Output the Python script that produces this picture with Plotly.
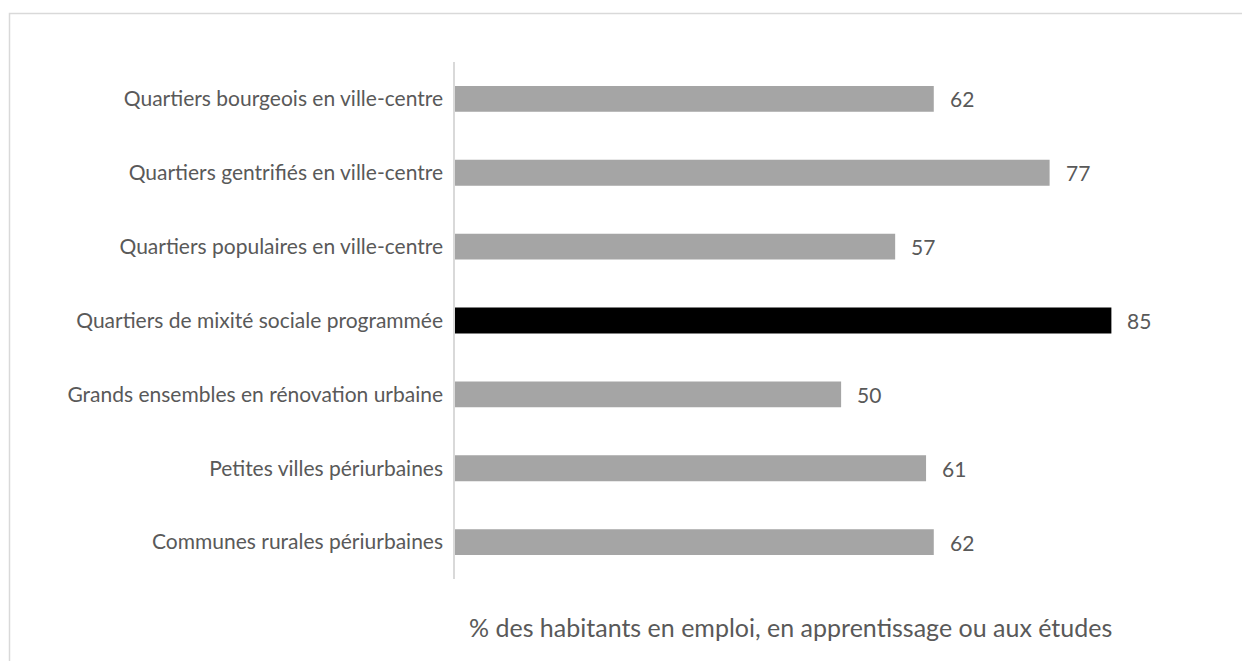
import plotly.graph_objects as go

categories = [
    "Quartiers bourgeois en ville-centre",
    "Quartiers gentrifiés en ville-centre",
    "Quartiers populaires en ville-centre",
    "Quartiers de mixité sociale programmée",
    "Grands ensembles en rénovation urbaine",
    "Petites villes périurbaines",
    "Communes rurales périurbaines",
]
values = [62, 77, 57, 85, 50, 61, 62]
highlight = "Quartiers de mixité sociale programmée"
axis_title = "% des habitants en emploi, en apprentissage ou aux études"

W, H = 1242, 661
L, R, T, B = 455, 92, 62, 82
pw, ph = W - L - R, H - T - B

colors = ["#000000" if c == highlight else "#a5a5a5" for c in categories]
FONT = "Lato, Open Sans, sans-serif"
TXT = "#595959"

fig = go.Figure(go.Bar(
    x=values, y=categories, orientation="h",
    marker=dict(color=colors, line=dict(width=0)),
    width=0.35, hoverinfo="skip",
))

# value labels placed just right of each bar
for c, v in zip(categories, values):
    fig.add_annotation(x=v, y=c, text=str(v), showarrow=False,
                       xanchor="left", xshift=14,
                       font=dict(family=FONT, size=21, color=TXT))

# axis title below the plot
fig.add_annotation(x=0.5, y=(-(627 - (T + ph)) / ph), xref="paper", yref="paper",
                   xanchor="center", yanchor="middle",
                   text=axis_title, showarrow=False, xshift=-12,
                   font=dict(family=FONT, size=25, color=TXT))

# light frame around the chart area
fig.add_shape(type="rect", xref="paper", yref="paper",
              x0=(9.5 - L) / pw, x1=(W + 20 - L) / pw,
              y0=-(H + 20 - T - ph) / ph, y1=(T + ph - 13.5) / ph,
              line=dict(color="#d9d9d9", width=1.5), fillcolor="rgba(0,0,0,0)",
              layer="below")

fig.update_layout(
    width=W, height=H,
    margin=dict(l=L, r=R, t=T, b=B, pad=0),
    plot_bgcolor="white", paper_bgcolor="white",
    showlegend=False,
    xaxis=dict(range=[0, 90], showgrid=False, zeroline=False,
               showticklabels=False, ticks="", showline=False, fixedrange=True),
    yaxis=dict(categoryorder="array", categoryarray=categories[::-1],
               showgrid=False, zeroline=False, ticks="", ticklen=0,
               showline=True, linecolor="#d9d9d9", linewidth=1.5,
               tickfont=dict(family=FONT, size=21, color=TXT),
               ticklabelstandoff=6, fixedrange=True),
)

fig.write_html("out.html", config={"displayModeBar": False})
